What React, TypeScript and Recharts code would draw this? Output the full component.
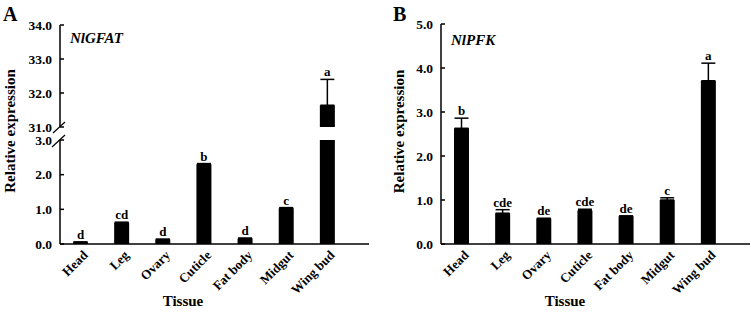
import React from 'react';
import { BarChart, Bar, XAxis, YAxis, ErrorBar, LabelList } from 'recharts';

const FONT = '"Liberation Serif", "Times New Roman", Times, serif';

const tissues = ['Head', 'Leg', 'Ovary', 'Cuticle', 'Fat body', 'Midgut', 'Wing bud'];

const gfatMean = [0.05, 0.61, 0.13, 2.3, 0.16, 1.03, 31.64];
const gfatErr = [0.01, 0.02, 0.01, 0.02, 0.01, 0.02, 0.76];
const gfatLetters = ['d', 'cd', 'd', 'b', 'd', 'c', 'a'];

const pfkMean = [2.63, 0.7, 0.575, 0.76, 0.63, 1.0, 3.71];
const pfkErr = [0.23, 0.08, 0.01, 0.03, 0.01, 0.05, 0.4];
const pfkLetters = ['b', 'cde', 'de', 'cde', 'de', 'c', 'a'];

const gfatLowTicks = [0, 1, 2, 3];
const gfatHighTicks = [31, 32, 33, 34];
const pfkTicks = [0, 1, 2, 3, 4, 5];

type Row = {
  tissue: string;
  mean: number | null;
  err: [number, number] | null;
  top: number | null;
  letter: string | null;
};

const buildRows = (means: number[], errs: number[], letters: string[], lo: number, hi: number): Row[] =>
  tissues.map((t, i) => {
    const m = means[i];
    const tp = m + errs[i];
    const visible = m >= lo;
    return {
      tissue: t,
      mean: visible ? m : null,
      err: visible ? [0, errs[i]] : null,
      top: visible ? tp : null,
      letter: tp >= lo && tp <= hi ? letters[i] : null,
    };
  });

const gfatLowRows = buildRows(gfatMean, gfatErr, gfatLetters, 0, 3);
const gfatHighRows = buildRows(gfatMean, gfatErr, gfatLetters, 31, 34);
const pfkRows = buildRows(pfkMean, pfkErr, pfkLetters, 0, 5);

const tickStyle = { fill: '#000', fontSize: 13.5, fontWeight: 'bold' as const, fontFamily: FONT };
const axisLineStyle = { stroke: '#000', strokeWidth: 1.5 };

const XTick = (props: any) => {
  const { x, y, payload } = props;
  return (
    <text
      transform={`translate(${x + 8},${y + 12}) rotate(-45)`}
      textAnchor="end"
      fill="#000"
      fontSize={13}
      fontWeight="bold"
      fontFamily={FONT}
    >
      {payload.value}
    </text>
  );
};

const fmt = (v: number) => v.toFixed(1);

function bars() {
  return [
    <Bar key="m" dataKey="mean" fill="#000" barSize={15} isAnimationActive={false}>
      <ErrorBar dataKey="err" width={7} stroke="#000" strokeWidth={1.5} direction="y" />
    </Bar>,
    <Bar key="t" dataKey="top" fill="none" barSize={15} isAnimationActive={false}>
      <LabelList
        dataKey="letter"
        position="top"
        offset={3}
        fill="#000"
        fontSize={13}
        fontWeight="bold"
        fontFamily={FONT}
      />
    </Bar>,
  ];
}

export default function App() {
  return (
    <div
      style={{
        position: 'absolute',
        left: 0,
        top: 0,
        width: 751,
        height: 312,
        background: '#fff',
        fontFamily: FONT,
        overflow: 'hidden',
      }}
    >
      {/* Panel A lower segment */}
      <div style={{ position: 'absolute', left: 0, top: 0 }}>
        <BarChart
          width={375}
          height={312}
          data={gfatLowRows}
          margin={{ top: 140, right: 6, bottom: 0, left: 0 }}
          barGap={-15}
        >
          <XAxis
            dataKey="tissue"
            height={68}
            interval={0}
            tickLine={false}
            tickSize={0}
            tickMargin={0}
            axisLine={axisLineStyle}
            tick={<XTick />}
            padding={{ left: 0, right: 21 }}
          />
          <YAxis
            width={60}
            domain={[0, 3]}
            ticks={gfatLowTicks}
            allowDataOverflow
            interval={0}
            tickFormatter={fmt}
            tickSize={-4}
            tickMargin={12}
            tickLine={axisLineStyle}
            axisLine={axisLineStyle}
            tick={tickStyle}
          />
          {bars()}
        </BarChart>
      </div>
      {/* Panel A upper segment */}
      <div style={{ position: 'absolute', left: 0, top: 0 }}>
        <BarChart
          width={375}
          height={136}
          data={gfatHighRows}
          margin={{ top: 25, right: 6, bottom: 9, left: 0 }}
          barGap={-15}
        >
          <XAxis dataKey="tissue" hide padding={{ left: 0, right: 21 }} />
          <YAxis
            width={60}
            domain={[31, 34]}
            ticks={gfatHighTicks}
            allowDataOverflow
            interval={0}
            tickFormatter={fmt}
            tickSize={-4}
            tickMargin={12}
            tickLine={axisLineStyle}
            axisLine={axisLineStyle}
            tick={tickStyle}
          />
          {bars()}
        </BarChart>
      </div>
      {/* Panel B */}
      <div style={{ position: 'absolute', left: 381, top: 0 }}>
        <BarChart
          width={370}
          height={312}
          data={pfkRows}
          margin={{ top: 24, right: 1, bottom: 0, left: 0 }}
          barGap={-15}
        >
          <XAxis
            dataKey="tissue"
            height={68}
            interval={0}
            tickLine={false}
            tickSize={0}
            tickMargin={0}
            axisLine={axisLineStyle}
            tick={<XTick />}
            padding={{ left: 0, right: 21 }}
          />
          <YAxis
            width={60}
            domain={[0, 5]}
            ticks={pfkTicks}
            interval={0}
            tickFormatter={fmt}
            tickSize={-4}
            tickMargin={12}
            tickLine={axisLineStyle}
            axisLine={axisLineStyle}
            tick={tickStyle}
          />
          {bars()}
        </BarChart>
      </div>
      {/* Annotations */}
      <svg
        width={751}
        height={312}
        style={{ position: 'absolute', left: 0, top: 0, pointerEvents: 'none' }}
      >
        <g fill="#000" fontFamily={FONT} fontWeight="bold">
          <text x={3} y={21} fontSize={20}>A</text>
          <text x={393} y={21} fontSize={20}>B</text>
          <text x={70} y={43} fontSize={15} fontStyle="italic">NlGFAT</text>
          <text x={451} y={45} fontSize={15} fontStyle="italic">NlPFK</text>
          <text transform="translate(14.5,131) rotate(-90)" textAnchor="middle" fontSize={15}>
            Relative expression
          </text>
          <text transform="translate(404,131.5) rotate(-90)" textAnchor="middle" fontSize={15}>
            Relative expression
          </text>
          <text x={183} y={306} textAnchor="middle" fontSize={15}>Tissue</text>
          <text x={565} y={306} textAnchor="middle" fontSize={15}>Tissue</text>
        </g>
        <g stroke="#000" strokeWidth={1.2}>
          <line x1={53} y1={133} x2={65} y2={122} />
          <line x1={52} y1={147} x2={65} y2={135} />
        </g>
      </svg>
    </div>
  );
}
